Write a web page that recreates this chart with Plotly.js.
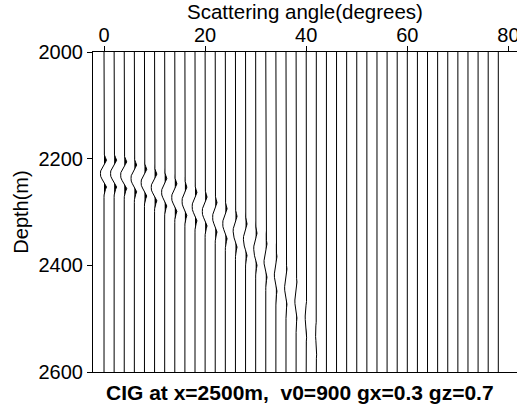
<!DOCTYPE html>
<html><head><meta charset="utf-8">
<script src="https://cdn.plot.ly/plotly-3.0.1.min.js"></script>
<style>html,body{margin:0;padding:0;background:#fff;overflow:hidden;}#chart{width:530px;height:410px;}</style>
</head><body><div id="chart"></div>
<script>
// Trace positions (scattering angle, degrees)
const angles = [0,2,4,6,8,10,12,14,16,18,20,22,24,26,28,30,32,34,36,38,
                40,42,44,46,48,50,52,54,56,58,60,62,64,66,68,70,72,74,76,78];
// Depth (m) of the event trough on each trace
const eventDepth = [2228,2228,2231,2237,2245,2254,2263,2273,2280,2290,
                    2299,2310,2322,2337,2352,2370,2391,2416,2440,2465,
                    2495,2527,2551,2485,2335,2353,2387,2433,2542,2300,
                    2300,2300,2300,2300,2300,2300,2300,2300,2300,2300];
// Peak deflection of the event on each trace (degrees)
const eventAmp = [0.7,0.7,0.7,0.65,0.65,0.65,0.6,0.6,0.55,0.55,
                  0.55,0.5,0.5,0.45,0.42,0.38,0.34,0.3,0.27,0.24,
                  0.2,0.15,0.08,0.06,0.08,0.06,0.05,0.05,0.05,0,
                  0,0,0,0,0,0,0,0,0,0];
// Apparent wavelet stretch on each trace
const eventStretch = [1,1,1,1,1,1,1.03,1.03,1.06,1.06,
                      1.08,1.1,1.12,1.15,1.18,1.2,1.25,1.3,1.32,1.35,
                      1.35,1.35,1.35,1.35,1.35,1.35,1.35,1.35,1.35,1,
                      1,1,1,1,1,1,1,1,1,1];
// Wavelet: depth offset (m) and normalized amplitude
const waveletOffset = [-45,-40,-35,-30,-25,-20,-15,-10,-5,0,5,10,15,20,25,30,35,40,45];
const waveletShape  = [0,0.02,0.1,0.4,0.7,0.3,-0.15,-0.6,-0.95,-1.0,-0.95,-0.6,-0.15,0.3,0.7,0.4,0.1,0.02,0];
const depthTicks = [2000,2200,2400,2600];
const angleTicks = [0,20,40,60,80];
const depthTop = 2000, depthBottom = 2600;

const lineX = [], lineY = [], fillX = [], fillY = [];
angles.forEach((a, i) => {
  const xs = [a], ys = [depthTop];
  if (eventAmp[i] > 0) {
    waveletOffset.forEach((o, k) => {
      ys.push(eventDepth[i] + o * eventStretch[i]);
      xs.push(a + eventAmp[i] * waveletShape[k]);
    });
  }
  xs.push(a); ys.push(depthBottom);
  lineX.push(...xs, null); lineY.push(...ys, null);
  let poly = null;
  for (let k = 0; k < xs.length; k++) {
    const v = xs[k] - a;
    if (k > 0) {
      const vp = xs[k-1] - a;
      if ((vp <= 0 && v > 0) || (vp > 0 && v <= 0)) {
        const t = vp / (vp - v);
        const yc = ys[k-1] + t * (ys[k] - ys[k-1]);
        if (v > 0) { poly = [[a, yc]]; }
        else if (poly) {
          poly.push([a, yc]);
          poly.forEach(p => { fillX.push(p[0]); fillY.push(p[1]); });
          fillX.push(null); fillY.push(null);
          poly = null;
        }
      }
    }
    if (v > 0 && poly) poly.push([xs[k], ys[k]]);
  }
});

const FONT = 'Liberation Sans, Arial, Helvetica, sans-serif';
const data = [
  {type:'scatter', mode:'lines', x:fillX, y:fillY, fill:'toself', fillcolor:'#000',
   line:{width:0, color:'#000'}, hoverinfo:'skip', showlegend:false},
  {type:'scatter', mode:'lines', x:lineX, y:lineY, connectgaps:false,
   line:{width:1, color:'#000'}, hoverinfo:'skip', showlegend:false}
];
const layout = {
  width:530, height:410,
  margin:{l:93, r:13, t:52, b:38},
  paper_bgcolor:'#fff', plot_bgcolor:'#fff',
  font:{family:FONT, size:20, color:'#000'},
  showlegend:false,
  xaxis:{side:'top', range:[-2.18, 81.7], tickvals:angleTicks, ticktext:angleTicks.map(String),
         ticks:'outside', ticklen:5, tickcolor:'#000', showline:true, linecolor:'#000', linewidth:1,
         mirror:true, showgrid:false, zeroline:false, tickfont:{size:20}, ticklabelstandoff:-4,
         title:{text:'Scattering angle(degrees)', font:{size:20.5}, standoff:0}},
  yaxis:{range:[depthBottom, depthTop], tickvals:depthTicks, ticktext:depthTicks.map(String),
         ticks:'outside', ticklen:5, tickcolor:'#000', showline:true, linecolor:'#000', linewidth:1,
         showgrid:false, zeroline:false, tickfont:{size:20},
         title:{text:'Depth(m)', font:{size:20}, standoff:4}},
  annotations:[{xref:'paper', yref:'paper', x:(300-93)/424, y:-0.064, xanchor:'center', yanchor:'middle',
                showarrow:false, text:'<b>CIG at x=2500m,\u00a0 v0=900 gx=0.3 gz=0.7</b>',
                font:{family:FONT, size:21, color:'#000'}}]
};
Plotly.newPlot('chart', data, layout, {displayModeBar:false, staticPlot:true});
</script></body></html>
